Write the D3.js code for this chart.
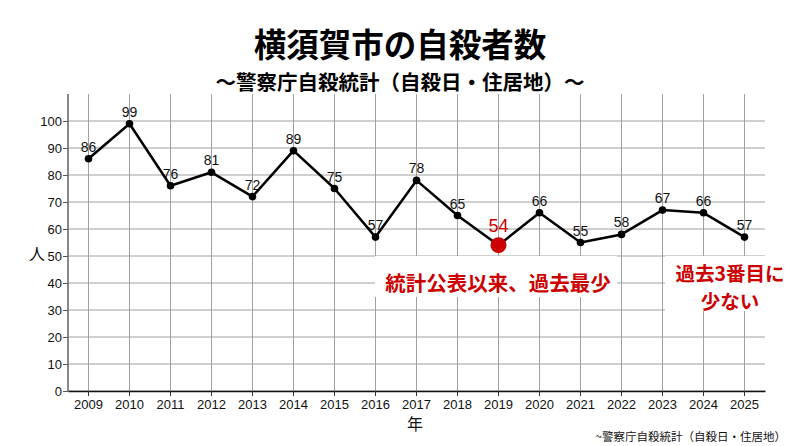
<!DOCTYPE html>
<html><head><meta charset="utf-8">
<script src="https://cdn.jsdelivr.net/npm/d3@7"></script>
<style>body{margin:0;background:#fff}svg{display:block}</style>
</head><body>
<svg id="c" width="800" height="446"></svg>
<script>
const years = ["2009","2010","2011","2012","2013","2014","2015","2016","2017","2018","2019","2020","2021","2022","2023","2024","2025"];
const deaths = [86,99,76,81,72,89,75,57,78,65,54,66,55,58,67,66,57];
const yTicks = [0,10,20,30,40,50,60,70,80,90,100];
const title = "横須賀市の自殺者数";
const subtitle = "～警察庁自殺統計（自殺日・住居地）～";
const source = "~警察庁自殺統計（自殺日・住居地）";
const note1 = ["統計公表以来、過去最少"];
const note2 = ["過去3番目に","少ない"];
const highlightYear = "2019";

const svg = d3.select("#c");
const F = "'Liberation Sans', Arial, sans-serif";
const J = "'Noto Sans CJK JP', sans-serif";
const red = "#cc0000";
const L = 68, R = 765, T = 94, B = 391;

const x = d3.scaleBand().domain(years).range([L, R]);
const y = d3.scaleLinear().domain([0, 110]).range([B, T]);
const cx = d => x(d) + x.bandwidth()/2;

// grid
const g = svg.append("g");
g.selectAll(".vg").data(years).join("line")
  .attr("x1", cx).attr("x2", cx).attr("y1", T).attr("y2", B)
  .attr("stroke", "#a0a0a0").attr("stroke-width", 1);
g.selectAll(".hg").data(yTicks).join("line")
  .attr("x1", L).attr("x2", R).attr("y1", d => y(d)).attr("y2", d => y(d))
  .attr("stroke", "#a0a0a0").attr("stroke-width", 1);

// annotation white boxes
svg.append("rect").attr("x", 375).attr("y", 256).attr("width", 242).attr("height", 41).attr("fill", "#fff");
svg.append("rect").attr("x", 665).attr("y", 256).attr("width", 135).attr("height", 55).attr("fill", "#fff");

// axes
const ya = svg.append("g").attr("transform", `translate(${L},0)`)
  .call(d3.axisLeft(y).tickValues(yTicks).tickSize(5).tickSizeOuter(0));
ya.select(".domain").attr("stroke", "#888").attr("stroke-width", 2).attr("d", `M0,${T}V${B}`);
ya.selectAll(".tick line").attr("stroke", "#555");
ya.selectAll(".tick text").attr("font-family", F).attr("font-size", 13).attr("fill", "#111").attr("x", -6);

const xa = svg.append("g").attr("transform", `translate(0,${B})`)
  .call(d3.axisBottom(x).tickSize(5).tickSizeOuter(0));
xa.select(".domain").attr("stroke", "#111").attr("stroke-width", 1.5);
xa.selectAll(".tick line").attr("stroke", "#333");
xa.selectAll(".tick text").attr("font-family", F).attr("font-size", 13).attr("fill", "#111").attr("y", 9);

// line
const data = years.map((yr, i) => ({yr, v: deaths[i]}));
svg.append("path").datum(data)
  .attr("fill", "none").attr("stroke", "#000").attr("stroke-width", 2.5).attr("stroke-linejoin", "round")
  .attr("d", d3.line().x(d => cx(d.yr)).y(d => y(d.v)));
svg.selectAll(".pt").data(data.filter(d => d.yr !== highlightYear)).join("circle")
  .attr("cx", d => cx(d.yr)).attr("cy", d => y(d.v)).attr("r", 3.8).attr("fill", "#000");
svg.selectAll(".hp").data(data.filter(d => d.yr === highlightYear)).join("circle")
  .attr("cx", d => cx(d.yr)).attr("cy", d => y(d.v)).attr("r", 8).attr("fill", red);

// labels
svg.selectAll(".lb").data(data).join("text")
  .attr("x", d => cx(d.yr)).attr("y", d => y(d.v) - (d.yr === highlightYear ? 13 : 7))
  .attr("text-anchor", "middle").attr("font-family", F)
  .attr("font-size", d => d.yr === highlightYear ? 18 : 14)
  .attr("fill", d => d.yr === highlightYear ? red : "#111")
  .text(d => d.v);

// titles
svg.append("text").attr("x", 400).attr("y", 57).attr("text-anchor", "middle")
  .attr("font-family", J).attr("font-weight", 700).attr("font-size", 32.5).attr("fill", "#000").text(title);
svg.append("text").attr("x", 400).attr("y", 89.5).attr("text-anchor", "middle")
  .attr("font-family", J).attr("font-weight", 700).attr("font-size", 20.5).attr("fill", "#000").text(subtitle);

// axis titles
svg.append("text").attr("x", 37).attr("y", 260).attr("text-anchor", "middle")
  .attr("font-family", J).attr("font-size", 16).attr("fill", "#111").text("人");
svg.append("text").attr("x", 415).attr("y", 430).attr("text-anchor", "middle")
  .attr("font-family", J).attr("font-size", 16).attr("fill", "#111").text("年");

// source
svg.append("text").attr("x", 786).attr("y", 441).attr("text-anchor", "end")
  .attr("font-family", J).attr("font-size", 11.5).attr("fill", "#111").text(source);

// annotations
svg.selectAll(".n1").data(note1).join("text")
  .attr("x", 498).attr("y", (d,i) => 291 + i*24).attr("text-anchor", "middle")
  .attr("font-family", J).attr("font-weight", 700).attr("font-size", 20.5).attr("fill", red).text(d => d);
svg.selectAll(".n2").data(note2).join("text")
  .attr("x", 730).attr("y", (d,i) => 281 + i*27.5).attr("text-anchor", "middle")
  .attr("font-family", J).attr("font-weight", 700).attr("font-size", 19.5).attr("fill", red).text(d => d);
</script>
</body></html>
